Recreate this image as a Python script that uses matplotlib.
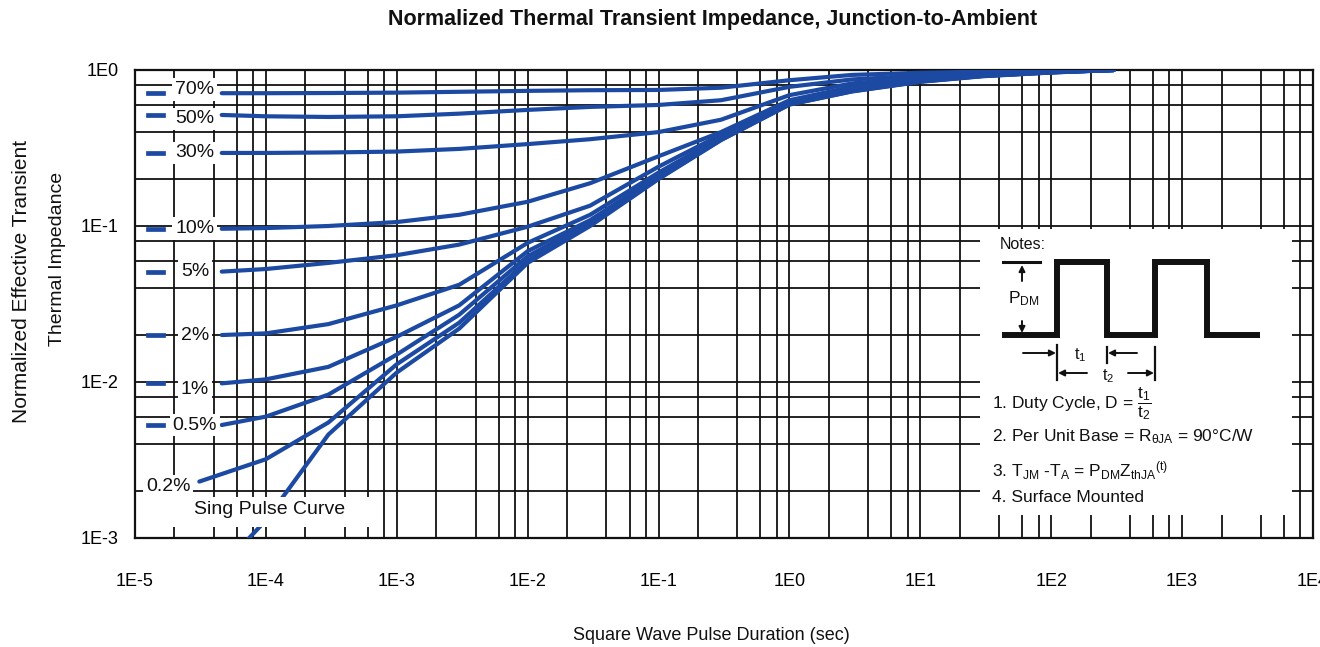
import matplotlib
matplotlib.use("Agg")
import matplotlib.pyplot as plt
from matplotlib.ticker import LogLocator, NullFormatter
from matplotlib.patches import Rectangle

plt.rcParams['font.family'] = ['Liberation Sans', 'DejaVu Sans']
plt.rcParams['mathtext.fontset'] = 'custom'
plt.rcParams['mathtext.rm'] = 'Liberation Sans'
plt.rcParams['mathtext.it'] = 'Liberation Sans'
plt.rcParams['mathtext.bf'] = 'Liberation Sans:bold'

# --- data ---
t_pulse = [4.6e-5, 1e-4, 3e-4, 1e-3, 3e-3, 1e-2, 3e-2, 1e-1, 3e-1, 1, 3, 10, 30, 100, 300]

z_70 = [0.71, 0.71, 0.712, 0.716, 0.725, 0.735, 0.742, 0.745, 0.77, 0.86, 0.93, 0.96, 0.975, 0.988, 1.0]
z_50 = [0.515, 0.505, 0.50, 0.505, 0.525, 0.555, 0.58, 0.597, 0.64, 0.78, 0.87, 0.92, 0.955, 0.98, 1.0]
z_30 = [0.294, 0.294, 0.296, 0.30, 0.312, 0.335, 0.36, 0.40, 0.48, 0.69, 0.82, 0.9, 0.945, 0.975, 1.0]
z_10 = [0.096, 0.097, 0.10, 0.106, 0.118, 0.143, 0.188, 0.28, 0.40, 0.64, 0.78, 0.88, 0.94, 0.975, 1.0]
z_5 = [0.051, 0.053, 0.058, 0.065, 0.076, 0.099, 0.135, 0.24, 0.385, 0.625, 0.76, 0.865, 0.93, 0.972, 1.0]
z_2 = [0.0200, 0.0205, 0.0235, 0.031, 0.042, 0.078, 0.118, 0.22, 0.372, 0.615, 0.745, 0.855, 0.925, 0.97, 1.0]
z_1 = [0.0098, 0.0104, 0.0125, 0.0195, 0.031, 0.069, 0.109, 0.21, 0.364, 0.608, 0.738, 0.85, 0.92, 0.968, 1.0]
z_05 = [0.0053, 0.006, 0.0083, 0.015, 0.027, 0.064, 0.105, 0.205, 0.36, 0.604, 0.734, 0.846, 0.917, 0.966, 1.0]

t_02 = [3.1e-5, 1e-4, 3e-4, 1e-3, 3e-3, 1e-2, 3e-2, 1e-1, 3e-1, 1, 3, 10, 30, 100, 300]
z_02 = [0.0023, 0.0032, 0.0055, 0.013, 0.024, 0.06, 0.102, 0.202, 0.357, 0.602, 0.731, 0.843, 0.915, 0.965, 1.0]

t_single = [5e-5, 1e-4, 3e-4, 1e-3, 3e-3, 1e-2, 3e-2, 1e-1, 3e-1, 1, 3, 10, 30, 100, 300]
z_single = [0.0007, 0.0013, 0.0046, 0.0115, 0.022, 0.058, 0.1, 0.2, 0.355, 0.6, 0.728, 0.84, 0.912, 0.963, 1.0]

duty_labels = ["70%", "50%", "30%", "10%", "5%", "2%", "1%", "0.5%"]
duty_curves = [z_70, z_50, z_30, z_10, z_5, z_2, z_1, z_05]

x_ticks = [1e-5, 1e-4, 1e-3, 1e-2, 1e-1, 1e0, 1e1, 1e2, 1e3, 1e4]
x_tick_labels = ["1E-5", "1E-4", "1E-3", "1E-2", "1E-1", "1E0", "1E1", "1E2", "1E3", "1E4"]
y_ticks = [1e-3, 1e-2, 1e-1, 1e0]
y_tick_labels = ["1E-3", "1E-2", "1E-1", "1E0"]

# square wave sketch in the notes box (box pixel units)
wave_x = [25, 77, 77, 127, 127, 175, 175, 227, 227, 277]
wave_y = [106, 106, 33, 33, 106, 106, 33, 33, 106, 106]

blue = "#1c4aa3"
ink = "#111111"

fig = plt.figure(figsize=(13.2, 6.47), dpi=100)
ax = fig.add_axes([135 / 1320, 1 - 538 / 647, 1178 / 1320, 468 / 647])
ax.set_xscale("log")
ax.set_yscale("log")
ax.set_xlim(1e-5, 1e4)
ax.set_ylim(1e-3, 1)

ax.set_xticks(x_ticks, x_tick_labels)
ax.set_yticks(y_ticks, y_tick_labels)
ax.xaxis.set_minor_locator(LogLocator(base=10, subs=(2, 4, 6, 8), numticks=50))
ax.yaxis.set_minor_locator(LogLocator(base=10, subs=(2, 4, 6, 8), numticks=50))
ax.xaxis.set_minor_formatter(NullFormatter())
ax.yaxis.set_minor_formatter(NullFormatter())
ax.grid(True, which="both", color=ink, linewidth=1.3)
ax.set_axisbelow(True)
ax.tick_params(which="both", length=0)
ax.tick_params(axis="x", pad=25, labelsize=13)
ax.tick_params(axis="y", pad=12, labelsize=13)
for s in ax.spines.values():
    s.set_color(ink)
    s.set_linewidth(1.6)

# curves
label_dy = {"70%": 4, "50%": -4, "1%": -6}
for lab, z in zip(duty_labels, duty_curves):
    ax.plot(t_pulse, z, color=blue, lw=3, solid_capstyle="round", zorder=3)
    ax.plot([1.26e-5, 1.64e-5], [z[0], z[0]], color=blue, lw=3.4, zorder=3)
    ax.annotate(lab, xy=(2.87e-5, z[0]), xytext=(0, label_dy.get(lab, 0)),
                textcoords="offset pixels", ha="center", va="center",
                fontsize=14, color=ink, zorder=6,
                bbox=dict(boxstyle="square,pad=0.15", fc="white", ec="none"))

ax.plot(t_02, z_02, color=blue, lw=3, solid_capstyle="round", zorder=3)
ax.annotate("0.2%", xy=(t_02[0], z_02[0]), xytext=(-31, -5),
            textcoords="offset pixels", ha="center", va="center",
            fontsize=14, color=ink, zorder=6,
            bbox=dict(boxstyle="square,pad=0.15", fc="white", ec="none"))

ax.plot(t_single, z_single, color=blue, lw=3, solid_capstyle="round", zorder=3)
ax.add_patch(Rectangle((0.003, 11 / 468), 237 / 1178, 30 / 468, transform=ax.transAxes,
                       fc="white", ec="none", zorder=5))
ax.text(135 / 1178, 28 / 468, "Sing Pulse Curve", transform=ax.transAxes,
        ha="center", va="center", fontsize=14, color=ink, zorder=6)

# notes box
axn = fig.add_axes([980 / 1320, 1 - 515 / 647, 312 / 1320, 286 / 647])
axn.set_xlim(0, 312)
axn.set_ylim(286, 0)
axn.set_xticks([])
axn.set_yticks([])
for s in axn.spines.values():
    s.set_visible(False)
axn.set_facecolor("white")

axn.plot(wave_x, wave_y, color=ink, lw=4.3, solid_joinstyle="miter")
axn.plot([23, 60], [33, 33], color=ink, lw=2.2)
arrow = dict(arrowstyle="-|>", lw=1.4, color=ink, mutation_scale=9, shrinkA=0, shrinkB=0)
axn.annotate("", xy=(42, 36), xytext=(42, 52), arrowprops=arrow)
axn.annotate("", xy=(42, 104), xytext=(42, 92), arrowprops=arrow)
axn.text(44, 70, r"P$_\mathregular{DM}$", ha="center", va="center", fontsize=12.5, color=ink)

axn.plot([77, 77], [116, 151], color=ink, lw=1.6)
axn.plot([127, 127], [118, 134], color=ink, lw=1.6)
axn.plot([175, 175], [118, 151], color=ink, lw=1.6)
axn.annotate("", xy=(76, 124), xytext=(43, 124), arrowprops=arrow)
axn.annotate("", xy=(128, 124), xytext=(157, 124), arrowprops=arrow)
axn.annotate("", xy=(78, 144), xytext=(107, 144), arrowprops=arrow)
axn.annotate("", xy=(174, 144), xytext=(148, 144), arrowprops=arrow)
axn.text(100, 126, r"t$_\mathregular{1}$", ha="center", va="center", fontsize=11.5, color=ink)
axn.text(128, 147, r"t$_\mathregular{2}$", ha="center", va="center", fontsize=11.5, color=ink)

axn.text(20, 16, "Notes:", ha="left", va="center", fontsize=11.5, color=ink)
axn.text(12, 175, r"1. Duty Cycle, D = $\mathregular{\dfrac{t_1}{t_2}}$", ha="left", va="center",
         fontsize=12.5, color=ink)
axn.text(12, 208, r"2. Per Unit Base = R$_\mathregular{θJA}$ = 90°C/W", ha="left", va="center",
         fontsize=12.5, color=ink)
axn.text(12, 242, r"3. T$_\mathregular{JM}$ -T$_\mathregular{A}$ = P$_\mathregular{DM}$Z$_\mathregular{thJA}$$^\mathregular{(t)}$",
         ha="left", va="center", fontsize=12.5, color=ink)
axn.text(12, 269, "4. Surface Mounted", ha="left", va="center", fontsize=12.5, color=ink)

# titles
fig.text(713 / 1320, 1 - 20 / 647, "Normalized Thermal Transient Impedance, Junction-to-Ambient",
         ha="center", va="center", fontsize=15.5, fontweight="bold", color=ink)
fig.text(711 / 1320, 1 - 635 / 647, "Square Wave Pulse Duration (sec)",
         ha="center", va="center", fontsize=13, color=ink)
fig.text(22 / 1320, 1 - 281 / 647, "Normalized Effective Transient", rotation=90,
         ha="center", va="center", fontsize=15, color=ink)
fig.text(58 / 1320, 1 - 259 / 647, "Thermal Impedance", rotation=90,
         ha="center", va="center", fontsize=14, color=ink)

fig.savefig("out.png", dpi=100)
